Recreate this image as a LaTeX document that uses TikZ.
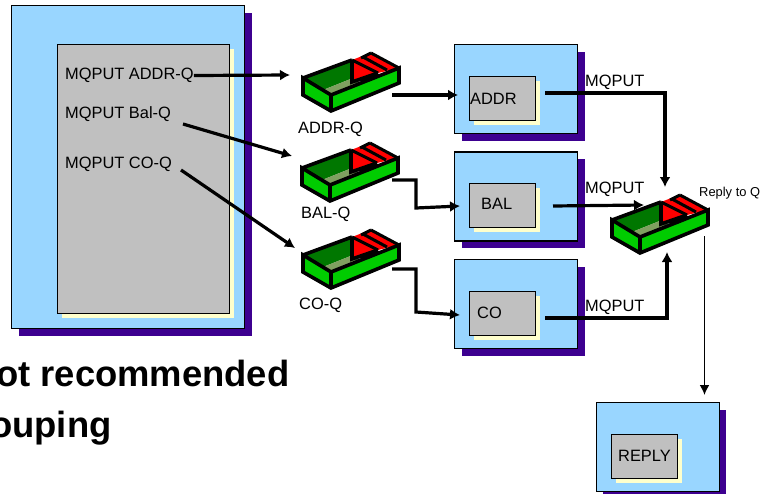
\documentclass[tikz,border=0pt]{standalone}
\usepackage{fontspec}
\setmainfont{Liberation Sans}
\usetikzlibrary{arrows.meta,positioning,shadows}
\definecolor{AppBlue}{HTML}{99D6FF}
\definecolor{AppShadow}{HTML}{3D0090}
\definecolor{PanelGrey}{HTML}{C0C0C0}
\definecolor{PanelCream}{HTML}{FFFFCC}
\definecolor{TrayGreen}{HTML}{00CC00}
\definecolor{TrayDark}{HTML}{007700}
\definecolor{TrayFloor}{HTML}{7FA060}
\tikzset{
  appbox/.style={draw,line width=1.4pt,fill=AppBlue,minimum width=123pt,minimum height=89pt,inner sep=0pt,
    drop shadow={shadow xshift=7pt,shadow yshift=-7pt,fill=AppShadow,opacity=1}},
  panel/.style={draw,line width=1.4pt,fill=PanelGrey,minimum width=66pt,minimum height=44pt,inner sep=0pt,
    drop shadow={shadow xshift=4.5pt,shadow yshift=-4.5pt,fill=PanelCream,opacity=1}},
  txt/.style={font=\fontsize{16.4}{18}\selectfont,inner sep=0pt,anchor=west,yshift=-2.5pt},
  bigtxt/.style={font=\fontsize{36.4}{40}\selectfont\bfseries,inner sep=0pt,anchor=base west},
  flow/.style={-{Latex[length=10pt,width=11pt]},line width=3.2pt,line join=miter},
  queue/.pic={
    \fill[TrayDark] (0,0) -- (50,-18) -- (50,0) -- (20,12) -- cycle;
    \fill[TrayFloor] (20,12) -- (50,0) -- (58,5) -- (28,17) -- cycle;
    \fill[TrayGreen] (0,0) -- (28,17) -- (28,33) -- (0,17) -- cycle;
    \fill[TrayGreen] (28,17) -- (96,-10) -- (96,5) -- (28,33) -- cycle;
    \fill[red] (49,-18) -- (75,-5) -- (49,3) -- cycle;
    \fill[red] (49,-18) -- (67,-25) -- (96,-10) -- (75,-5) -- cycle;
    \draw[line width=3.6pt,line join=miter] (0,0) -- (28,17) -- (96,-10) -- (96,5) -- (28,33) -- (0,17) -- cycle
      (28,17) -- (28,33) (0,0) -- (49,-18) (49,-18) -- (49,4) -- (75,-5);
    \draw[line width=3pt,line join=miter] (49,-18) -- (75,-5) (60,-21) -- (84,-8) (68,-25) -- (96,-10) (58,-20) -- (68,-25);
  }
}
\begin{document}
\begin{tikzpicture}[x=1pt,y=-1pt]
  \useasboundingbox (0,0) rectangle (766,493);
  % caller
  \node[appbox,minimum width=233pt,minimum height=323pt,anchor=north west] (caller) at (11,5) {};
  \node[panel,minimum width=172pt,minimum height=269pt,anchor=north west] (callpanel) at (57,44) {};
  \node[txt] (putaddr) at (65,73) {MQPUT ADDR-Q};
  \node[txt] (putbal) at (65,112) {MQPUT Bal-Q};
  \node[txt] (putco) at (65,162) {MQPUT CO-Q};
  \node[bigtxt] (notrec) at (-4,386) {ot recommended};
  \node[bigtxt] (grouping) at (-10,437) {ouping};
  % queues
  \pic at (303,78) {queue};
  \pic at (302,168) {queue};
  \pic at (303,255) {queue};
  \pic at (612,220) {queue};
  \node[txt] (addrq) at (298,127) {ADDR-Q};
  \node[txt] (balq) at (301,212) {BAL-Q};
  \node[txt] (coq) at (299,303) {CO-Q};
  \node[txt,font=\fontsize{12.9}{14}\selectfont] (replyq) at (699,191) {Reply to Q};
  % servers
  \node[appbox,anchor=north west] (addrapp) at (454,44) {};
  \node[appbox,below=17pt of addrapp] (balapp) {};
  \node[appbox,below=17pt of balapp] (coapp) {};
  \node[appbox,anchor=north west] (replyapp) at (595.5,402) {};
  \node[panel,anchor=north west] (addr) at (469,76) {};
  \node[panel,anchor=north west] (bal) at (469,183) {};
  \node[panel,anchor=north west] (co) at (469,291) {};
  \node[panel,anchor=north west] (reply) at (610.5,434) {};
  \node[txt] (addrtxt) at (470,96.5) {ADDR};
  \node[txt] (baltxt) at (481,201.5) {BAL};
  \node[txt] (cotxt) at (477,310.5) {CO};
  \node[txt] (replytxt) at (618,453.5) {REPLY};
  \node[txt] (mqaddr) at (585,80) {MQPUT};
  \node[txt] (mqbal) at (585,187) {MQPUT};
  \node[txt] (mqco) at (585,305) {MQPUT};
  % connector ends
  \coordinate (addrqin) at (290,75);
  \coordinate (balqin) at (292,156);
  \coordinate (coqin) at (295,248);
  \coordinate (addrqout) at (392,95);
  \coordinate (balqout) at (392,180);
  \coordinate (coqout) at (392,269);
  \coordinate (addrin) at (458,95);
  \coordinate (balin) at (460,206);
  \coordinate (coin) at (460,315);
  \coordinate (addrout) at (545,93);
  \coordinate (balout) at (553,206);
  \coordinate (coout) at (545,318);
  \coordinate (replytop) at (665,187);
  \coordinate (replyleft) at (644,205);
  \coordinate (replybot) at (667,252);
  \coordinate (replyout) at (704.5,236);
  \coordinate (replyin) at (704.5,395);
  \coordinate (balstart) at (183,124);
  \coordinate (costart) at (181,170);
  \draw[flow] (putaddr.east) -- (addrqin);
  \draw[flow] (balstart) -- (balqin);
  \draw[flow] (costart) -- (coqin);
  \draw[flow] (addrqout) -- (addrin);
  \draw[flow] (balqout) -- (416,180) -- (416,208) -- (balin);
  \draw[flow] (coqout) -- (416,269) -- (416,312) -- (coin);
  \draw[flow] (addrout) -- (665,93) -- (replytop);
  \draw[flow] (balout) -- (replyleft);
  \draw[flow] (coout) -- (667,318) -- (replybot);
  \draw[-{Latex[length=10pt,width=10pt]},line width=1.8pt] (replyout) -- (replyin);
\end{tikzpicture}
\end{document}
